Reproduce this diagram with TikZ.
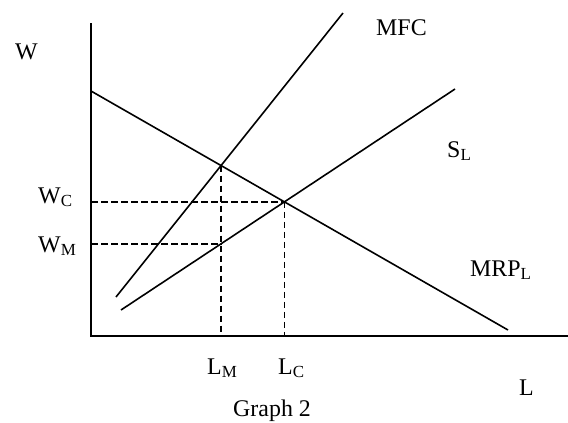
\documentclass[tikz,border=0pt]{standalone}
\usepackage{fontspec}
\setmainfont{Liberation Serif}
\usetikzlibrary{positioning}

\newcommand{\sub}[1]{\raisebox{-0.16em}{\fontsize{17}{19}\selectfont #1}}

\begin{document}
\begin{tikzpicture}[
  x=1bp, y=-1bp,
  font=\fontsize{24}{28}\selectfont,
  ax/.style={line width=2.2bp},
  curve/.style={line width=1.6bp},
  guide/.style={line width=1.6bp, dash pattern=on 6.5bp off 3.5bp},
  lbl/.style={inner sep=0pt, anchor=base west}
]
  \useasboundingbox (0,0) rectangle (568,422);

  % axes
  \coordinate (o) at (91,336);
  \coordinate (ytop) at (91,23);
  \coordinate (xend) at (568,336);
  \draw[ax] (ytop) -- (o) -- (xend);

  % curve end points
  \coordinate (mrp0) at (91,91);
  \coordinate (mrp1) at (508,330);
  \coordinate (mfc0) at (116,297);
  \coordinate (mfc1) at (343,13);
  \coordinate (sl0) at (121,310);
  \coordinate (sl1) at (455,89);

  \draw[curve] (mrp0) -- (mrp1);
  \draw[curve] (mfc0) -- (mfc1);
  \draw[curve] (sl0) -- (sl1);

  % monopsony and competitive points
  \coordinate (em) at (intersection of mrp0--mrp1 and mfc0--mfc1);
  \coordinate (ec) at (intersection of mrp0--mrp1 and sl0--sl1);
  \coordinate (lm) at (em |- o);
  \coordinate (lc) at (ec |- o);
  \coordinate (sm) at (intersection of em--lm and sl0--sl1);
  \coordinate (wm) at (o |- sm);
  \coordinate (wc) at (o |- ec);

  \draw[guide] (wc) -- (ec);
  \draw[guide] (ec) -- (lc);
  \draw[guide] (wm) -- (sm);
  \draw[guide] (em) -- (lm);

  % labels
  \node[lbl] (wlab) at (15,59) {W};
  \node[lbl] (mfclab) at (376,35) {MFC};
  \node[lbl] (sllab) at (447,157) {S\sub{L}};
  \node[lbl] (mrplab) at (470,276) {MRP\sub{L}};
  \node[lbl] (llab) at (519,395) {L};
  \node[lbl] (wclab) at (38,203) {W\sub{C}};
  \node[lbl] (wmlab) at (38,252) {W\sub{M}};
  \node[lbl] (lmlab) at (207,374) {L\sub{M}};
  \node[lbl] (lclab) at (278,374) {L\sub{C}};
  \node[lbl] (title) at (233,416) {Graph 2};
\end{tikzpicture}
\end{document}
